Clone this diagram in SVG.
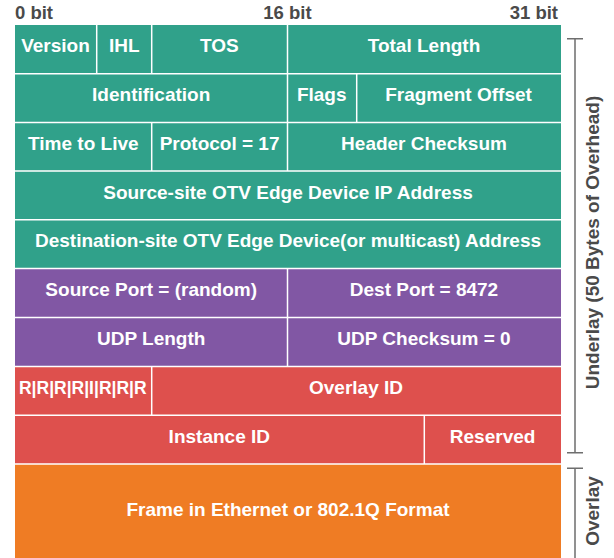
<svg xmlns="http://www.w3.org/2000/svg" width="614" height="558" viewBox="0 0 614 558">
<style>
.t{font-family:"Liberation Sans",Arial,sans-serif;font-weight:bold;font-size:19px;fill:#ffffff;text-anchor:middle}
.h{font-family:"Liberation Sans",Arial,sans-serif;font-weight:bold;font-size:18.5px;fill:#4a4a4a}
.teal{fill:#30a18a}.purple{fill:#8157a4}.red{fill:#de504d}.orange{fill:#ef7c24}
.sep{stroke:#ffffff;stroke-width:1.5;fill:none}
.br{stroke:#6e6e6e;stroke-width:1.5;fill:none}
</style>
<rect width="614" height="558" fill="#ffffff"/>
<g id="header">
<text class="h" x="15" y="19">0 bit</text>
<text class="h" x="287.5" y="19" text-anchor="middle">16 bit</text>
<text class="h" x="558" y="19" text-anchor="end">31 bit</text>
</g>
<g id="bands">
<rect class="teal" x="15" y="25" width="546" height="244"/>
<rect class="purple" x="15" y="269" width="546" height="98"/>
<rect class="red" x="15" y="367" width="546" height="97"/>
<rect class="orange" x="15" y="464" width="546" height="94"/>
</g>
<g id="separators">
<path class="sep" d="M15 73.7H561M15 122.4H561M15 171.1H561M15 219.8H561M15 268.5H561M15 317.5H561M15 366.5H561M15 415.2H561M15 463.9H561"/>
<path class="sep" d="M96.7 25V73.7M151.7 25V73.7M287.5 25V73.7M287.5 73.7V122.4M356.7 73.7V122.4M151.7 122.4V171.1M287.5 122.4V171.1M287.5 268.5V317.5M287.5 317.5V366.5M151.7 366.5V415.2M424.3 415.2V463.9"/>
</g>
<g id="row1">
<text class="t" x="55.5" y="52.4">Version</text>
<text class="t" x="124.2" y="52.4">IHL</text>
<text class="t" x="219.3" y="52.4">TOS</text>
<text class="t" x="424" y="52.4">Total Length</text>
</g>
<g id="row2">
<text class="t" x="151.2" y="101.1">Identification</text>
<text class="t" x="321.7" y="101.1">Flags</text>
<text class="t" x="458.5" y="101.1">Fragment Offset</text>
</g>
<g id="row3">
<text class="t" x="83.3" y="149.8">Time to Live</text>
<text class="t" x="219.6" y="149.8">Protocol = 17</text>
<text class="t" x="424" y="149.8">Header Checksum</text>
</g>
<g id="row4">
<text class="t" x="288" y="198.5">Source-site OTV Edge Device IP Address</text>
</g>
<g id="row5">
<text class="t" x="288" y="247.2">Destination-site OTV Edge Device(or multicast) Address</text>
</g>
<g id="row6">
<text class="t" x="151.2" y="296">Source Port = (random)</text>
<text class="t" x="424" y="296">Dest Port = 8472</text>
</g>
<g id="row7">
<text class="t" x="151.2" y="345">UDP Length</text>
<text class="t" x="424" y="345">UDP Checksum = 0</text>
</g>
<g id="row8">
<text class="t" x="82.8" y="394" style="font-size:17.5px">R|R|R|R|I|R|R|R</text>
<text class="t" x="356" y="394">Overlay ID</text>
</g>
<g id="row9">
<text class="t" x="219.3" y="442.7">Instance ID</text>
<text class="t" x="492.6" y="442.7">Reserved</text>
</g>
<g id="row10">
<text class="t" x="288" y="516">Frame in Ethernet or 802.1Q Format</text>
</g>
<g id="brackets">
<path class="br" d="M567 38.7H583M575 38.7V452.7M567 452.7H583M567 468.3H583M575 468.3V558"/>
<text class="h" transform="translate(598.5 242.5) rotate(-90)" text-anchor="middle" style="font-size:19px">Underlay (50 Bytes of Overhead)</text>
<text class="h" transform="translate(598.5 511) rotate(-90)" text-anchor="middle" style="font-size:19px">Overlay</text>
</g>
</svg>
